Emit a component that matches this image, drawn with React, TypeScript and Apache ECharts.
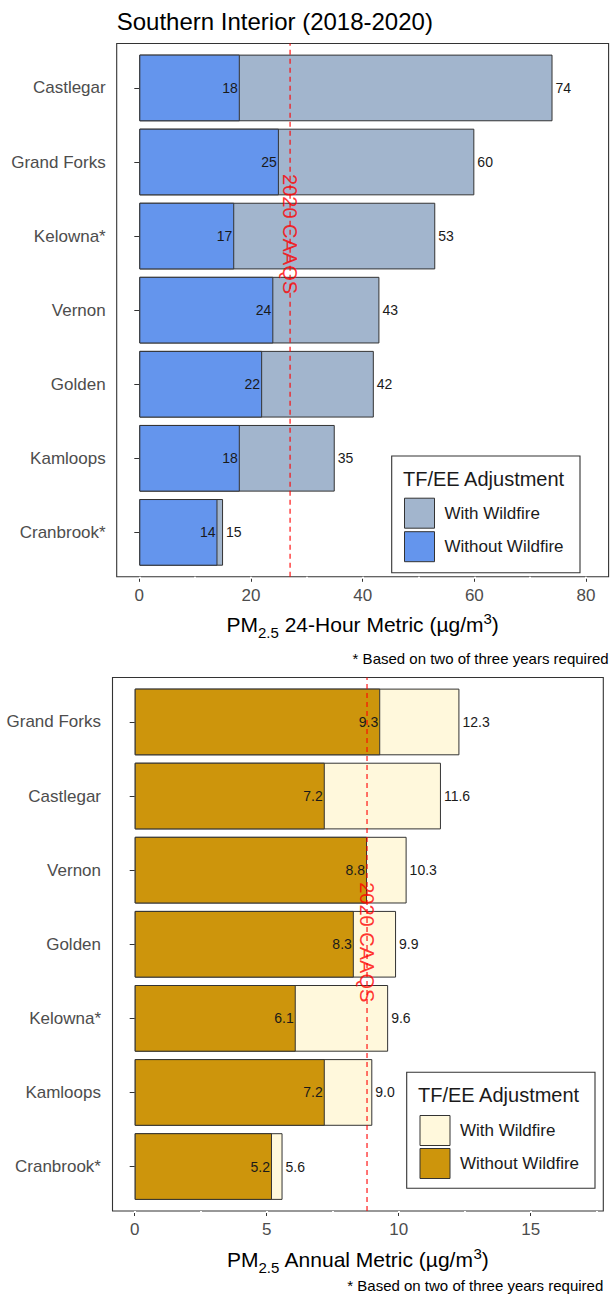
import React, { useEffect, useRef } from "react";
import * as echarts from "echarts";

const FONT = "'Liberation Sans', Arial, sans-serif";

// ---- 24-hour metric (top panel) ----
const sites24h = ["Castlegar", "Grand Forks", "Kelowna*", "Vernon", "Golden", "Kamloops", "Cranbrook*"];
const withWildfire24h = [74, 60, 53, 43, 42, 35, 15];
const withoutWildfire24h = [18, 25, 17, 24, 22, 18, 14];
const caaqs24h = 27;
const caaqsSite24h = "Kelowna*";
const xMax24h = 80;
const xInterval24h = 20;

// ---- Annual metric (bottom panel) ----
const sitesAnnual = ["Grand Forks", "Castlegar", "Vernon", "Golden", "Kelowna*", "Kamloops", "Cranbrook*"];
const withWildfireAnnual = [12.3, 11.6, 10.3, 9.9, 9.6, 9.0, 5.6];
const withoutWildfireAnnual = [9.3, 7.2, 8.8, 8.3, 6.1, 7.2, 5.2];
const caaqsAnnual = 8.8;
const caaqsSiteAnnual = "Golden";
const xMaxAnnual = 15;
const xIntervalAnnual = 5;

const WITH = "With Wildfire";
const WITHOUT = "Without Wildfire";
const CAPTION = "* Based on two of three years required";
const RED = "#FF0000";

interface PanelCfg {
  sites: string[];
  withVals: number[];
  withoutVals: number[];
  colorWith: string;
  colorWithout: string;
  caaqs: number;
  caaqsSite: string;
  xMax: number;
  xInterval: number;
  gridStep: number;
  gridMax: number;
  decimals: number;
  frame: { left: number; right: number; top: number; bottom: number };
  zeroX: number;
  px: number;
  yLabelMargin: number;
  xLabelMargin: number;
  metricName: string;
  legendBox: { x: number; y: number; w: number; h: number };
  legendTitle: { x: number; y: number };
  legendItems: { left: number; top: number; gap: number };
}

const top: PanelCfg = {
  sites: sites24h,
  withVals: withWildfire24h,
  withoutVals: withoutWildfire24h,
  colorWith: "#A2B5CD",
  colorWithout: "#6495ED",
  caaqs: caaqs24h,
  caaqsSite: caaqsSite24h,
  xMax: xMax24h,
  xInterval: xInterval24h,
  gridStep: 10,
  gridMax: 80,
  decimals: 0,
  frame: { left: 116.7, right: 608.6, top: 43.5, bottom: 576.8 },
  zeroX: 139.3,
  px: 5.584,
  yLabelMargin: 11,
  xLabelMargin: 10.5,
  metricName: " 24-Hour Metric (\u00b5g/m",
  legendBox: { x: 391.7, y: 456, w: 188.3, h: 116.7 },
  legendTitle: { x: 403, y: 479 },
  legendItems: { left: 404, top: 497.7, gap: 2.5 },
};

const bottom: PanelCfg = {
  sites: sitesAnnual,
  withVals: withWildfireAnnual,
  withoutVals: withoutWildfireAnnual,
  colorWith: "#FFF8DC",
  colorWithout: "#CD950C",
  caaqs: caaqsAnnual,
  caaqsSite: caaqsSiteAnnual,
  xMax: xMaxAnnual,
  xInterval: xIntervalAnnual,
  gridStep: 2.5,
  gridMax: 17.5,
  decimals: 1,
  frame: { left: 112.5, right: 603.3, top: 677.5, bottom: 1211 },
  zeroX: 134.7,
  px: 26.4,
  yLabelMargin: 11.5,
  xLabelMargin: 9.5,
  metricName: " Annual Metric (\u00b5g/m",
  legendBox: { x: 406.7, y: 1072.3, w: 188.3, h: 116 },
  legendTitle: { x: 418, y: 1095 },
  legendItems: { left: 419.5, top: 1115, gap: 2 },
};

function buildPanel(p: PanelCfg, idx: number) {
  const g = idx * 2;
  const band = (p.frame.bottom - p.frame.top) / 7.2;
  const gridTop = p.frame.top + 0.1 * band;
  const gridH = 7 * band;
  const xOffset = p.frame.bottom - (gridTop + gridH);
  const yOffset = p.zeroX - p.frame.left;
  const fmt = (v: number) => v.toFixed(p.decimals);
  const midX = (p.frame.left + p.frame.right) / 2;

  const grids = [
    { left: p.zeroX, top: gridTop, width: p.xMax * p.px, height: gridH, outerBoundsMode: "none", containLabel: false },
    { left: p.zeroX, top: p.frame.top, width: p.gridMax * p.px, height: p.frame.bottom - p.frame.top, outerBoundsMode: "none", containLabel: false },
  ];

  const xAxes = [
    {
      gridIndex: g,
      type: "value",
      min: 0,
      max: p.xMax,
      interval: p.xInterval,
      offset: xOffset,
      axisLine: { show: false },
      axisTick: { show: true, length: 5, lineStyle: { color: "#333333", width: 1 } },
      axisLabel: { fontSize: 17, color: "#4D4D4D", fontFamily: FONT, margin: p.xLabelMargin },
      splitLine: { show: false },
    },
    {
      gridIndex: g + 1,
      type: "value",
      position: "top",
      min: 0,
      max: p.gridMax,
      interval: p.gridStep,
      z: 10,
      axisLine: { show: false },
      axisTick: { show: true, inside: true, length: 2, lineStyle: { color: "#FFFFFF", width: 2 } },
      axisLabel: { show: false },
      splitLine: { show: false },
    },
  ];

  const yAxes = [
    {
      gridIndex: g,
      type: "category",
      data: p.sites,
      inverse: true,
      offset: yOffset,
      axisLine: { show: false },
      axisTick: { show: true, alignWithLabel: true, length: 5, lineStyle: { color: "#333333", width: 1 } },
      axisLabel: { fontSize: 17, color: "#4D4D4D", fontFamily: FONT, margin: p.yLabelMargin },
      splitLine: { show: false },
    },
    { gridIndex: g + 1, type: "value", min: 0, max: 1, show: false },
  ];

  const barBase = {
    type: "bar",
    xAxisIndex: g,
    yAxisIndex: g,
    barGap: "-100%",
    barCategoryGap: "10%",
    silent: true,
  };

  const series = [
    {
      ...barBase,
      name: WITH,
      data: p.withVals,
      z: 2,
      itemStyle: { color: p.colorWith, borderColor: "#333333", borderWidth: 1 },
      label: {
        show: true,
        position: "right",
        distance: 3,
        fontSize: 14,
        color: "#1A1A1A",
        fontFamily: FONT,
        formatter: (d: any) => fmt(d.value),
      },
    },
    {
      ...barBase,
      name: WITHOUT,
      data: p.withoutVals,
      z: 3,
      itemStyle: { color: p.colorWithout, borderColor: "#333333", borderWidth: 1 },
      label: {
        show: true,
        position: "insideRight",
        distance: 2,
        fontSize: 14,
        color: "#1A1A1A",
        fontFamily: FONT,
        formatter: (d: any) => fmt(d.value),
      },
    },
    {
      type: "scatter",
      xAxisIndex: g,
      yAxisIndex: g,
      data: [[p.caaqs, p.caaqsSite]],
      symbolSize: 1,
      itemStyle: { color: "transparent" },
      silent: true,
      z: 6,
      label: {
        show: true,
        position: "inside",
        rotate: -90,
        offset: [-2, 0],
        formatter: "2020 CAAQS",
        fontSize: 20,
        color: RED,
        fontFamily: FONT,
      },
    },
    {
      // CAAQS reference line spanning the full panel height
      type: "line",
      xAxisIndex: g + 1,
      yAxisIndex: g + 1,
      data: [
        [p.caaqs, 0],
        [p.caaqs, 1],
      ],
      symbol: "none",
      silent: true,
      z: 8,
      color: RED,
      lineStyle: { color: RED, type: [5, 4], width: 1.1 },
    },
  ];

  const legend = {
    left: p.legendItems.left,
    top: p.legendItems.top,
    orient: "vertical",
    padding: 0,
    itemWidth: 30,
    itemHeight: 30,
    itemGap: p.legendItems.gap,
    icon: "rect",
    selectedMode: false,
    textStyle: { fontSize: 17, color: "#1A1A1A", fontFamily: FONT, padding: [0, 0, 0, 5] },
    data: [
      { name: WITH, itemStyle: { color: p.colorWith, borderColor: "#333333", borderWidth: 1 } },
      { name: WITHOUT, itemStyle: { color: p.colorWithout, borderColor: "#333333", borderWidth: 1 } },
    ],
  };

  const graphics: any[] = [
    {
      type: "rect",
      z: 1,
      silent: true,
      shape: {
        x: p.frame.left,
        y: p.frame.top,
        width: p.frame.right - p.frame.left,
        height: p.frame.bottom - p.frame.top,
      },
      style: { fill: "none", stroke: "#333333", lineWidth: 1.1 },
    },
    {
      type: "rect",
      z: 20,
      silent: true,
      shape: { x: p.legendBox.x, y: p.legendBox.y, width: p.legendBox.w, height: p.legendBox.h },
      style: { fill: "#FFFFFF", stroke: "#333333", lineWidth: 1.1 },
    },
    {
      type: "text",
      z: 21,
      silent: true,
      x: p.legendTitle.x,
      y: p.legendTitle.y,
      style: {
        text: "TF/EE Adjustment",
        fontSize: 20,
        fontFamily: FONT,
        fill: "#1A1A1A",
        align: "left",
        verticalAlign: "middle",
      },
    },
    {
      type: "text",
      silent: true,
      x: midX,
      y: p.frame.bottom + 49,
      style: {
        text: `{a|PM}{s|2.5}{a|${p.metricName}}{p|3}{a|)}`,
        align: "center",
        verticalAlign: "middle",
        rich: {
          a: { fontSize: 21, fontFamily: FONT, fill: "#000000", verticalAlign: "bottom", padding: [0, 0, 5, 0] },
          s: { fontSize: 15, fontFamily: FONT, fill: "#000000", verticalAlign: "bottom" },
          p: { fontSize: 15, fontFamily: FONT, fill: "#000000", verticalAlign: "bottom", padding: [0, 0, 14, 0] },
        },
      },
    },
    {
      type: "text",
      silent: true,
      x: p.frame.right,
      y: p.frame.bottom + (idx === 0 ? 81.2 : 74),
      style: {
        text: CAPTION,
        fontSize: 15,
        fontFamily: FONT,
        fill: "#000000",
        align: "right",
        verticalAlign: "middle",
      },
    },
  ];

  return { grids, xAxes, yAxes, series, legend, graphics };
}

const panels = [buildPanel(top, 0), buildPanel(bottom, 1)];

const option: any = {
  animation: false,
  backgroundColor: "#FFFFFF",
  textStyle: { fontFamily: FONT },
  grid: panels.flatMap((p) => p.grids),
  xAxis: panels.flatMap((p) => p.xAxes),
  yAxis: panels.flatMap((p) => p.yAxes),
  series: panels.flatMap((p) => p.series),
  legend: panels.map((p) => ({ ...p.legend, z: 22 })),
  graphic: [
    {
      type: "text",
      silent: true,
      x: top.frame.left,
      y: 21.5,
      style: {
        text: "Southern Interior (2018-2020)",
        fontSize: 24,
        fontFamily: FONT,
        fill: "#000000",
        align: "left",
        verticalAlign: "middle",
      },
    },
    ...panels.flatMap((p) => p.graphics),
  ],
};

export default function App() {
  const ref = useRef<HTMLDivElement>(null);
  useEffect(() => {
    if (!ref.current) return;
    const chart = echarts.init(ref.current, null, { renderer: "svg" });
    chart.setOption(option);
    return () => chart.dispose();
  }, []);
  return (
    <div
      ref={ref}
      style={{ position: "absolute", left: 0, top: 0, width: 613, height: 1301, background: "#FFFFFF" }}
    />
  );
}
